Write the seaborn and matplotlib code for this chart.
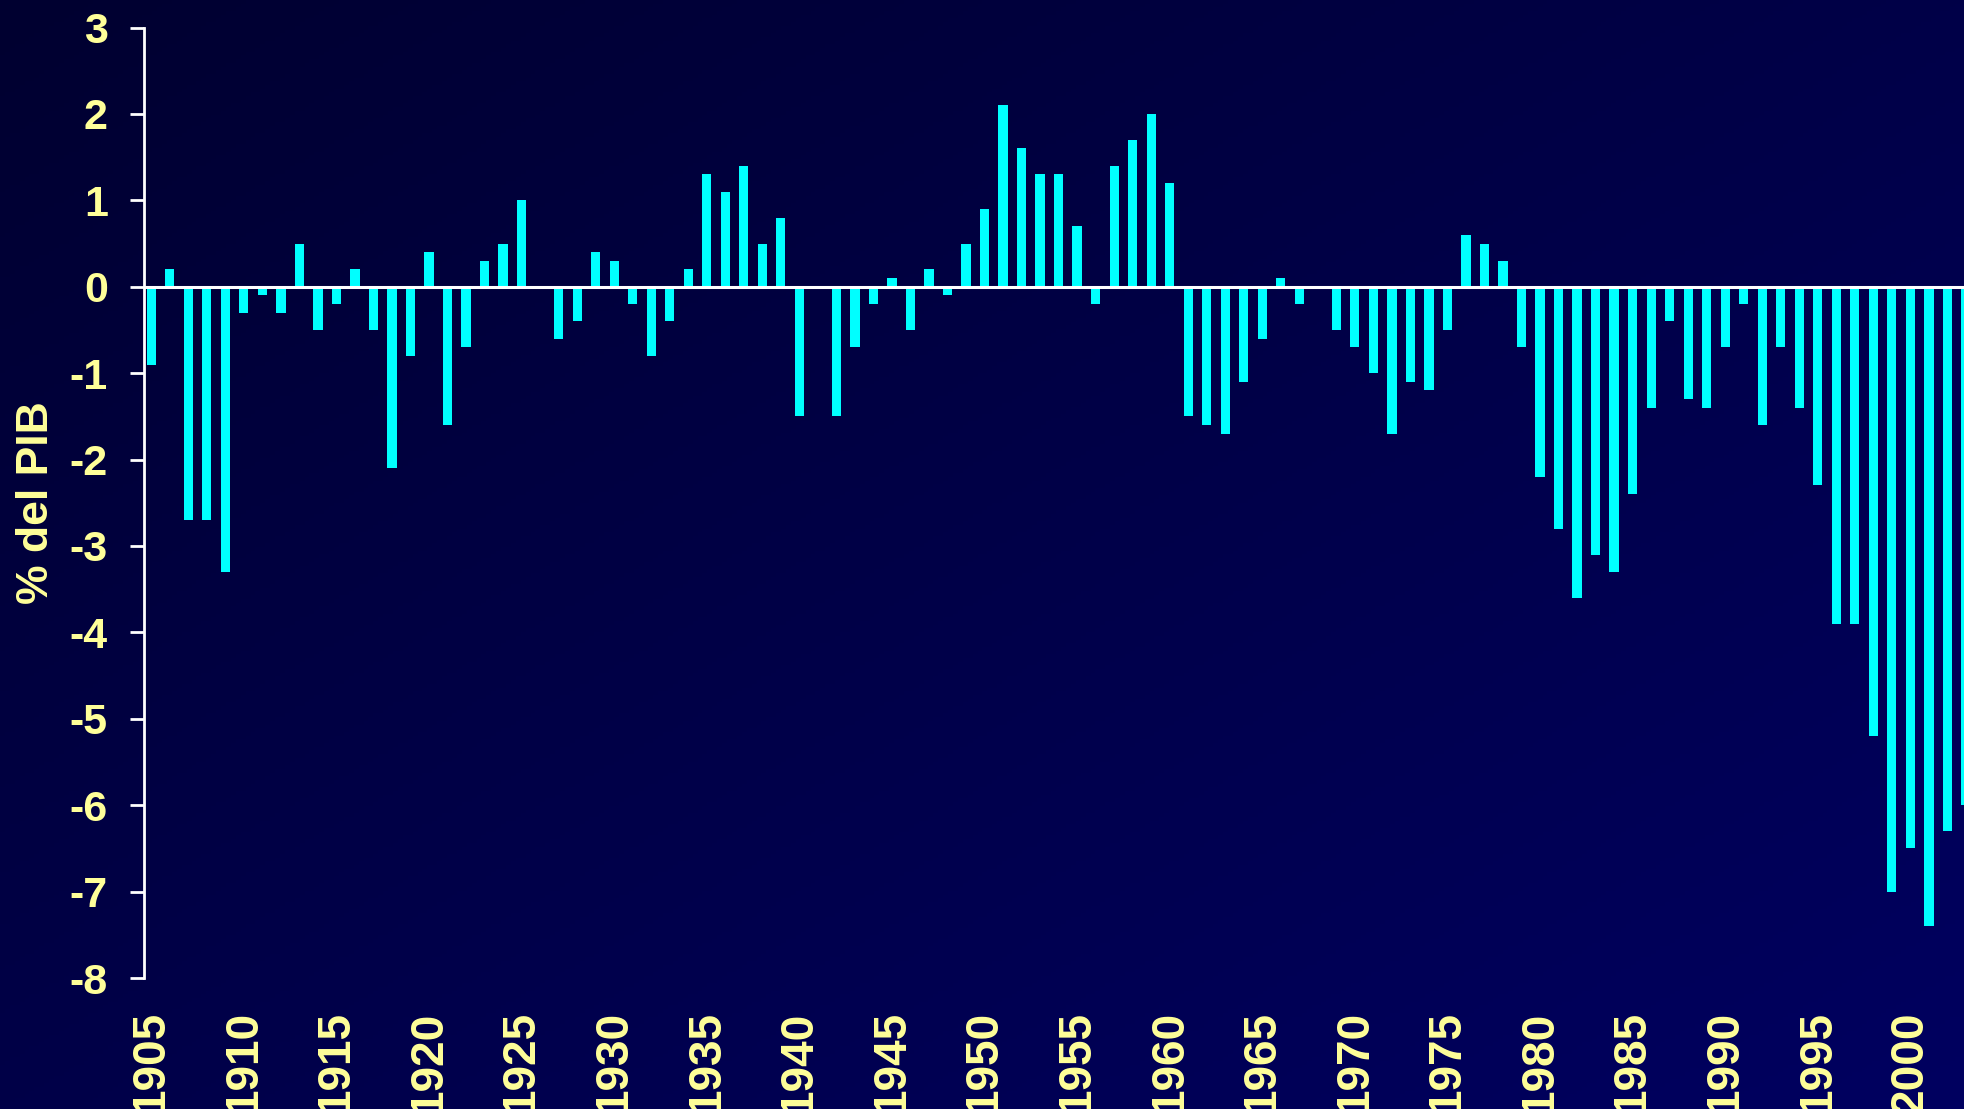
# Saldo presupuestario, % del PIB, 1905-2003
import numpy as np
import pandas as pd
import matplotlib.pyplot as plt
import seaborn as sns
from matplotlib.colors import LinearSegmentedColormap

years = list(range(1905, 2004))
saldo = [
    -0.9, 0.2, -2.7, -2.7, -3.3, -0.3, -0.1, -0.3, 0.5, -0.5,   # 1905-1914
    -0.2, 0.2, -0.5, -2.1, -0.8, 0.4, -1.6, -0.7, 0.3, 0.5,     # 1915-1924
    1.0, 0.0, -0.6, -0.4, 0.4, 0.3, -0.2, -0.8, -0.4, 0.2,      # 1925-1934
    1.3, 1.1, 1.4, 0.5, 0.8, -1.5, 0.0, -1.5, -0.7, -0.2,       # 1935-1944
    0.1, -0.5, 0.2, -0.1, 0.5, 0.9, 2.1, 1.6, 1.3, 1.3,         # 1945-1954
    0.7, -0.2, 1.4, 1.7, 2.0, 1.2, -1.5, -1.6, -1.7, -1.1,      # 1955-1964
    -0.6, 0.1, -0.2, 0.0, -0.5, -0.7, -1.0, -1.7, -1.1, -1.2,   # 1965-1974
    -0.5, 0.6, 0.5, 0.3, -0.7, -2.2, -2.8, -3.6, -3.1, -3.3,    # 1975-1984
    -2.4, -1.4, -0.4, -1.3, -1.4, -0.7, -0.2, -1.6, -0.7, -1.4, # 1985-1994
    -2.3, -3.9, -3.9, -5.2, -7.0, -6.5, -7.4, -6.3, -6.0,       # 1995-2003
]
tick_years = list(range(1905, 2001, 5))
y_ticks = list(range(-8, 4))

plt.rcParams['font.family'] = ['Liberation Sans', 'DejaVu Sans']
plt.rcParams['font.weight'] = 'bold'
plt.rcParams['axes.unicode_minus'] = False
txt = '#FFFF99'

fig = plt.figure(figsize=(19.65, 11.09), dpi=100)

# dark navy diagonal gradient behind everything
bg = fig.add_axes([0, 0, 1, 1], zorder=-1)
xx, yy = np.meshgrid(np.linspace(0, 1, 400), np.linspace(0, 1, 300))
navy = LinearSegmentedColormap.from_list('navy', ['#000030', '#000060'])
bg.imshow((xx + yy) / 2, cmap=navy, aspect='auto', origin='upper')
bg.axis('off')

ax = fig.add_axes([0.0733, 0.1181, 0.9267, 0.8571])
ax.set_facecolor('none')

df = pd.DataFrame({'year': years, 'saldo': saldo})
sns.barplot(data=df, x='year', y='saldo', color='#00FFFF', saturation=1,
            width=0.5, errorbar=None, linewidth=0, ax=ax)

ax.axhline(0, color='white', lw=2.2, zorder=3)

ax.set_xlim(-0.39, 97.95)
ax.set_ylim(-8, 3)
ax.set_yticks(y_ticks)
ax.set_xticks([years.index(y) for y in tick_years])
ax.set_xticklabels(tick_years, rotation=90)

for side in ['top', 'right', 'bottom']:
    ax.spines[side].set_visible(False)
ax.spines['left'].set_color('white')
ax.spines['left'].set_linewidth(2)

ax.tick_params(axis='y', color='white', labelcolor=txt, length=10, width=2,
               pad=16, labelsize=31)
ax.tick_params(axis='x', length=0, labelcolor=txt, pad=24, labelsize=33)

ax.set_xlabel('')
ax.set_ylabel('% del PIB', color=txt, fontsize=32, fontweight='bold', labelpad=9)

fig.savefig('out.png', dpi=100)
